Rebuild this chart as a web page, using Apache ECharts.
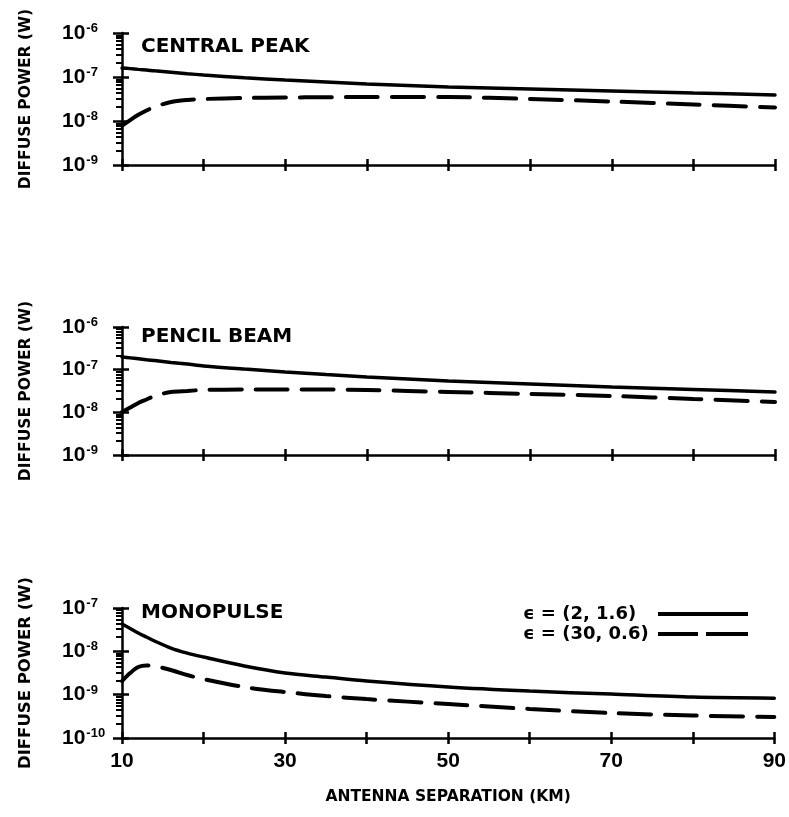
<!DOCTYPE html>
<html>
<head>
<meta charset="utf-8">
<script src="https://cdn.jsdelivr.net/npm/echarts@6/dist/echarts.min.js"></script>
<style>
html,body{margin:0;padding:0;background:#fff;}
#c{width:789px;height:817px;}
</style>
</head>
<body>
<div id="c"></div>
<script>
// ---- data ----
var separationKm = [10, 11, 12, 13, 14, 16, 18, 20, 25, 30, 35, 40, 50, 60, 70, 80, 90];
var xTickLabels = ['10', '30', '50', '70', '90'];
var panelTitles = ['CENTRAL PEAK', 'PENCIL BEAM', 'MONOPULSE'];
var seriesNames = ['\u03F5 = (2, 1.6)', '\u03F5 = (30, 0.6)'];

var centralPeakEps1 = [1.60e-7, 1.55e-7, 1.49e-7, 1.44e-7, 1.38e-7, 1.29e-7, 1.19e-7, 1.11e-7, 9.6e-8, 8.55e-8, 7.7e-8, 6.93e-8, 5.93e-8, 5.34e-8, 4.81e-8, 4.33e-8, 3.90e-8];
var centralPeakEps2 = [7.8e-9, 1.05e-8, 1.38e-8, 1.73e-8, 2.1e-8, 2.7e-8, 3.0e-8, 3.16e-8, 3.33e-8, 3.42e-8, 3.47e-8, 3.5e-8, 3.5e-8, 3.16e-8, 2.77e-8, 2.37e-8, 2.03e-8];
var pencilBeamEps1 = [1.98e-7, 1.89e-7, 1.80e-7, 1.71e-7, 1.63e-7, 1.48e-7, 1.35e-7, 1.22e-7, 1.03e-7, 8.84e-8, 7.67e-8, 6.75e-8, 5.44e-8, 4.62e-8, 3.94e-8, 3.44e-8, 3.0e-8];
var pencilBeamEps2 = [1.02e-8, 1.30e-8, 1.66e-8, 2.0e-8, 2.42e-8, 3.0e-8, 3.17e-8, 3.35e-8, 3.42e-8, 3.44e-8, 3.42e-8, 3.35e-8, 3.0e-8, 2.70e-8, 2.42e-8, 2.06e-8, 1.75e-8];
var monopulseEps1 = [4.26e-8, 3.37e-8, 2.65e-8, 2.14e-8, 1.73e-8, 1.19e-8, 9.1e-9, 7.4e-9, 4.58e-9, 3.16e-9, 2.55e-9, 2.06e-9, 1.5e-9, 1.21e-9, 1.03e-9, 8.8e-10, 8.3e-10];
var monopulseEps2 = [2.06e-9, 3.15e-9, 4.34e-9, 4.7e-9, 4.58e-9, 3.7e-9, 2.84e-9, 2.29e-9, 1.5e-9, 1.15e-9, 9.3e-10, 7.9e-10, 6.07e-10, 4.67e-10, 3.76e-10, 3.3e-10, 3.04e-10];

var yRanges = [[1e-9, 1e-6], [1e-9, 1e-6], [1e-10, 1e-7]];
var panelData = [[centralPeakEps1, centralPeakEps2], [pencilBeamEps1, pencilBeamEps2], [monopulseEps1, monopulseEps2]];

// ---- layout ----
var grids = [
  {left: 122, right: 14, top: 33, height: 132},
  {left: 122, right: 14, top: 327, height: 128},
  {left: 122, right: 14, top: 608, height: 130}
];
var titleTops = [37, 327, 603];

function pairs(xs, ys) { return xs.map(function (x, i) { return [x, ys[i]]; }); }

var numFont = '"Liberation Sans", Arial, sans-serif';
var nameFont = '"DejaVu Sans", sans-serif';

var xAxes = [], yAxes = [], series = [], titles = [];
for (var p = 0; p < 3; p++) {
  var isLast = p === 2;
  xAxes.push({
    type: 'value', gridIndex: p, min: 10, max: 90, interval: 10, position: 'bottom',
    axisLine: {show: true, lineStyle: {color: '#000', width: 2.5}},
    axisTick: {show: true, inside: false, length: 6, lineStyle: {color: '#000', width: 2.5}},
    splitLine: {show: false},
    axisLabel: {
      show: isLast, margin: 13, color: '#000', fontSize: 21, fontWeight: 'bold', fontFamily: numFont,
      formatter: function (v) { var s = String(v); return xTickLabels.indexOf(s) >= 0 ? s : ''; }
    },
    name: isLast ? 'ANTENNA SEPARATION (KM)' : '',
    nameLocation: 'middle', nameGap: 51,
    nameTextStyle: {color: '#000', fontSize: 15.5, fontWeight: 'bold', fontFamily: nameFont}
  });
  yAxes.push({
    type: 'log', logBase: 10, gridIndex: p, min: yRanges[p][0], max: yRanges[p][1], splitNumber: 3, position: 'left',
    axisLine: {show: true, lineStyle: {color: '#000', width: 2.5}},
    axisTick: {show: true, inside: false, length: 9, lineStyle: {color: '#000', width: 2.5}},
    minorTick: {show: true, splitNumber: 8, length: 6, lineStyle: {color: '#000', width: 2}},
    splitLine: {show: false},
    minorSplitLine: {show: false},
    axisLabel: {
      show: true, margin: 60, align: 'left', color: '#000',
      formatter: function (v) { return '{b|10}{s|' + Math.round(Math.log10(v)) + '}'; },
      rich: {
        b: {fontSize: 21, fontWeight: 'bold', fontFamily: numFont, color: '#000', lineHeight: 22},
        s: {fontSize: 13, fontWeight: 'bold', fontFamily: numFont, color: '#000', verticalAlign: 'top', lineHeight: 13, padding: [0, 0, 0, 1]}
      }
    },
    name: 'DIFFUSE POWER (W)', nameLocation: 'middle', nameGap: 88, nameRotate: 90,
    nameTextStyle: {color: '#000', fontSize: p === 2 ? 16.5 : 15.5, fontWeight: 'bold', fontFamily: nameFont}
  });
  titles.push({
    text: panelTitles[p], left: 141, top: titleTops[p], padding: 0,
    textStyle: {color: '#000', fontSize: 20, fontWeight: 'bold', fontFamily: nameFont}
  });
  series.push({
    name: seriesNames[0], type: 'line', xAxisIndex: p, yAxisIndex: p, symbol: 'none', smooth: 0.3,
    data: pairs(separationKm, panelData[p][0]),
    lineStyle: {color: '#000', width: 3.5, cap: 'round'}, itemStyle: {color: '#000'}
  });
  series.push({
    name: seriesNames[1], type: 'line', xAxisIndex: p, yAxisIndex: p, symbol: 'none', smooth: 0.3,
    data: pairs(separationKm, panelData[p][1]),
    lineStyle: {color: '#000', width: 4, type: [32, 14], cap: 'round'}, itemStyle: {color: '#000'}
  });
}
// overlay axes giving the inner half of the cross ticks
for (var q = 0; q < 3; q++) {
  xAxes.push({
    type: 'value', gridIndex: q, min: 10, max: 90, interval: 10, position: 'bottom',
    axisLine: {show: false}, axisLabel: {show: false}, splitLine: {show: false},
    axisTick: {show: true, inside: true, length: 6, lineStyle: {color: '#000', width: 2.5}}
  });
  yAxes.push({
    type: 'log', logBase: 10, gridIndex: q, min: yRanges[q][0], max: yRanges[q][1], splitNumber: 3, position: 'left',
    axisLine: {show: false}, axisLabel: {show: false}, splitLine: {show: false}, minorTick: {show: false},
    axisTick: {show: true, inside: true, length: 7, lineStyle: {color: '#000', width: 2.5}}
  });
}

var legendFont = '"DejaVu Sans", sans-serif';
var chart = echarts.init(document.getElementById('c'), null, {renderer: 'canvas'});
chart.setOption({
  backgroundColor: '#fff',
  animation: false,
  title: titles,
  grid: grids,
  xAxis: xAxes,
  yAxis: yAxes,
  legend: {
    data: [
      {name: seriesNames[0], icon: 'path://M0 0H90V4H0Z'},
      {name: seriesNames[1], icon: 'path://M0 0H40V4H0Z M48 0H90V4H48Z'}
    ],
    orient: 'vertical', align: 'right', left: 523, top: 605,
    itemWidth: 90, itemHeight: 4, itemGap: 2, padding: 0,
    selectedMode: false,
    itemStyle: {color: '#000', borderWidth: 0},
    formatter: function (name) { return '{t|' + name + '}'; },
    textStyle: {
      color: '#000', fontSize: 18, fontWeight: 'bold', fontFamily: legendFont,
      rich: {t: {width: 130, align: 'left', color: '#000', fontSize: 18, fontWeight: 'bold', fontFamily: legendFont, lineHeight: 21}}
    }
  },
  series: series
});
</script>
</body>
</html>
